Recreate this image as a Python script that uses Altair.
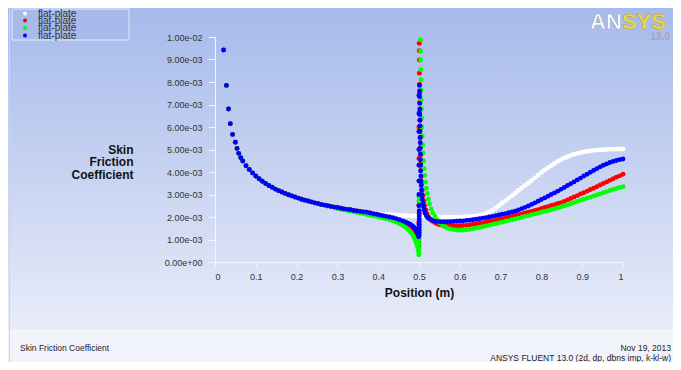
import altair as alt
import pandas as pd

# ---------------- data (y in units of 1e-3) ----------------
LEGEND_LABELS = ["flat-plate", "flat-plate", "flat-plate", "flat-plate"]
SERIES_COLORS = ["#ffffff", "#ff0000", "#00ff00", "#0000ff"]

X_TICKS = [0, 0.1, 0.2, 0.3, 0.4, 0.5, 0.6, 0.7, 0.8, 0.9, 1.0]
X_TICK_LABELS = ["0", "0.1", "0.2", "0.3", "0.4", "0.5", "0.6", "0.7", "0.8", "0.9", "1"]
Y_TICKS = [0, 1, 2, 3, 4, 5, 6, 7, 8, 9, 10]
Y_TICK_LABELS = ["0.00e+00", "1.00e-03", "2.00e-03", "3.00e-03", "4.00e-03", "5.00e-03",
                 "6.00e-03", "7.00e-03", "8.00e-03", "9.00e-03", "1.00e-02"]

# first plate, shared by every case
TRUNK_X = [0.021, 0.028, 0.033, 0.0375, 0.043, 0.050, 0.054, 0.058, 0.063,
           0.068, 0.076, 0.084, 0.092, 0.100, 0.108, 0.116, 0.124, 0.132, 0.140,
           0.148, 0.156, 0.164, 0.172, 0.180, 0.188, 0.196, 0.204, 0.212, 0.220,
           0.228, 0.236, 0.244, 0.252, 0.260, 0.268, 0.276, 0.284, 0.292]
TRUNK_Y = [9.42, 7.85, 6.80, 6.15, 5.67, 5.32, 5.05, 4.83, 4.64,
           4.49, 4.28, 4.11, 3.96, 3.82, 3.70, 3.59, 3.49, 3.40, 3.32,
           3.24, 3.17, 3.11, 3.05, 2.99, 2.94, 2.89, 2.84, 2.79, 2.75,
           2.71, 2.67, 2.63, 2.60, 2.56, 2.53, 2.50, 2.47, 2.44]

# end of the first plate
TAIL1_X = [0.300, 0.308, 0.316, 0.324, 0.332, 0.340, 0.348, 0.356, 0.364, 0.372, 0.380,
           0.388, 0.396, 0.404, 0.412, 0.420, 0.428, 0.436, 0.444, 0.452, 0.460,
           0.467, 0.473, 0.478, 0.482, 0.486, 0.489, 0.492, 0.494, 0.496, 0.498, 0.4995]
BLUE_TAIL1_Y = [2.42, 2.39, 2.36, 2.34, 2.32, 2.29, 2.27, 2.25, 2.23, 2.21, 2.18,
                2.15, 2.12, 2.09, 2.06, 2.03, 2.00, 1.97, 1.93, 1.88, 1.83,
                1.78, 1.73, 1.68, 1.63, 1.57, 1.51, 1.44, 1.38, 1.31, 1.22, 1.12]
RED_TAIL1_Y = [2.42, 2.39, 2.36, 2.34, 2.32, 2.29, 2.27, 2.25, 2.23, 2.21, 2.18,
               2.14, 2.11, 2.07, 2.03, 1.99, 1.95, 1.91, 1.86, 1.80, 1.74,
               1.67, 1.60, 1.53, 1.46, 1.37, 1.28, 1.17, 1.08, 0.97, 0.84, 0.72]
GREEN_TAIL1_Y = [2.38, 2.35, 2.32, 2.29, 2.26, 2.23, 2.20, 2.17, 2.14, 2.11, 2.08,
                 2.05, 2.02, 1.99, 1.96, 1.92, 1.88, 1.83, 1.77, 1.70, 1.62,
                 1.54, 1.45, 1.36, 1.27, 1.16, 1.05, 0.92, 0.81, 0.68, 0.50, 0.32]

# single long plate case (white), middle part
WHITE_MID_X = [0.300, 0.308, 0.316, 0.324, 0.332, 0.340, 0.348, 0.356, 0.364, 0.372, 0.380,
               0.388, 0.396, 0.404, 0.412, 0.420, 0.428, 0.436, 0.444, 0.452, 0.460,
               0.468, 0.476, 0.484, 0.492, 0.500, 0.508, 0.516, 0.524, 0.532, 0.540,
               0.548, 0.556, 0.564]
WHITE_MID_Y = [2.42, 2.39, 2.36, 2.34, 2.32, 2.29, 2.27, 2.25, 2.23, 2.21, 2.19,
               2.17, 2.15, 2.14, 2.12, 2.11, 2.10, 2.09, 2.08, 2.07, 2.07,
               2.06, 2.06, 2.05, 2.05, 2.04, 2.03, 2.02, 2.02, 2.01, 2.01,
               2.00, 2.00, 1.99]

# leading-edge spike of the second plate
BLUE_SPIKE_X = [0.5005, 0.5005, 0.5005, 0.5005, 0.5005, 0.5005, 0.5005, 0.5005, 0.5005, 0.5005,
                0.4998, 0.4998, 0.4998, 0.4998, 0.4998, 0.4998, 0.4998, 0.4998,
                0.5012, 0.5015, 0.5015, 0.502, 0.502, 0.502, 0.5025, 0.5025, 0.5025,
                0.503, 0.503, 0.503, 0.5035, 0.5035, 0.504, 0.504, 0.5045, 0.505,
                0.5055, 0.506, 0.507, 0.508, 0.5095, 0.511, 0.513, 0.515, 0.518,
                0.521, 0.525, 0.530, 0.536, 0.543, 0.552, 0.560]
BLUE_SPIKE_Y = [1.20, 1.32, 1.44, 1.56, 1.68, 1.80, 1.92, 2.04, 2.16, 2.28,
                2.50, 3.00, 3.60, 4.30, 5.00, 5.80, 6.60, 7.40,
                7.85, 7.60, 7.35, 7.05, 6.80, 6.55, 6.30, 6.05, 5.80,
                5.55, 5.30, 5.05, 4.80, 4.55, 4.30, 4.05, 3.82, 3.60,
                3.40, 3.20, 3.00, 2.80, 2.60, 2.45, 2.30, 2.17, 2.06,
                1.98, 1.92, 1.87, 1.83, 1.80, 1.79, 1.79]
RED_SPIKE_X = [0.4995, 0.4995, 0.4995, 0.4995, 0.4995, 0.4995, 0.4995, 0.4995,
               0.4998, 0.4998, 0.4998,
               0.5008, 0.5008, 0.501, 0.501, 0.5012, 0.5015, 0.5015, 0.502, 0.502,
               0.5025, 0.503, 0.5035, 0.504, 0.5045, 0.505, 0.506, 0.507, 0.5085,
               0.510, 0.512, 0.514, 0.517, 0.520, 0.524, 0.528, 0.533, 0.539,
               0.545, 0.552, 0.560]
RED_SPIKE_Y = [0.75, 0.88, 1.01, 1.14, 1.27, 1.40, 1.55, 1.73,
               2.53, 4.60, 6.00,
               9.72, 9.39, 8.98, 8.39, 7.90, 7.50, 7.10, 6.70, 6.30,
               5.90, 5.50, 5.10, 4.75, 4.40, 4.10, 3.80, 3.50, 3.20,
               2.95, 2.70, 2.50, 2.30, 2.14, 2.00, 1.90, 1.81, 1.74,
               1.69, 1.65, 1.62]
GREEN_SPIKE_X = [0.4998, 0.4998, 0.4998, 0.4998, 0.4998, 0.4998,
                 0.5037, 0.5037, 0.504, 0.5045, 0.505, 0.505, 0.5055, 0.506, 0.5065,
                 0.507, 0.508, 0.509, 0.510, 0.511, 0.5125, 0.514, 0.516, 0.518,
                 0.520, 0.523, 0.526, 0.530, 0.534, 0.539, 0.545, 0.551, 0.557, 0.564]
GREEN_SPIKE_Y = [0.45, 0.60, 0.80, 1.00, 2.70, 2.90,
                 9.87, 9.38, 8.98, 8.55, 8.10, 7.65, 7.20, 6.80, 6.40,
                 6.00, 5.60, 5.20, 4.85, 4.50, 4.15, 3.85, 3.55, 3.28,
                 3.05, 2.80, 2.58, 2.36, 2.18, 2.02, 1.87, 1.75, 1.65, 1.57]

# second plate
G2_X = [0.568, 0.576, 0.584, 0.592, 0.600, 0.608, 0.616, 0.624, 0.632, 0.640,
        0.648, 0.656, 0.664, 0.672, 0.680, 0.688, 0.696, 0.704, 0.712, 0.720,
        0.728, 0.736, 0.744, 0.752, 0.760, 0.768, 0.776, 0.784, 0.792, 0.800,
        0.808, 0.816, 0.824, 0.832, 0.840, 0.848, 0.856, 0.864, 0.872, 0.880,
        0.888, 0.896, 0.904, 0.912, 0.920, 0.928, 0.936, 0.944, 0.952, 0.960,
        0.968, 0.976, 0.984, 0.992, 1.000]
WHITE_G2_Y = [1.99, 1.99, 1.99, 1.99, 2.00, 2.00, 2.01, 2.02, 2.03, 2.04,
              2.06, 2.10, 2.15, 2.22, 2.30, 2.40, 2.51, 2.62, 2.73, 2.84,
              2.95, 3.06, 3.18, 3.29, 3.40, 3.51, 3.62, 3.74, 3.86, 3.98,
              4.09, 4.19, 4.29, 4.38, 4.47, 4.55, 4.62, 4.68, 4.74, 4.79,
              4.83, 4.86, 4.89, 4.92, 4.94, 4.96, 4.97, 4.98, 4.99, 5.00,
              5.01, 5.01, 5.02, 5.02, 5.02]
RED_G2_Y = [1.60, 1.60, 1.60, 1.60, 1.61, 1.62, 1.63, 1.65, 1.67, 1.69,
            1.72, 1.74, 1.77, 1.80, 1.83, 1.86, 1.89, 1.93, 1.96, 2.00,
            2.03, 2.07, 2.10, 2.14, 2.18, 2.21, 2.25, 2.29, 2.33, 2.38,
            2.42, 2.46, 2.51, 2.55, 2.60, 2.64, 2.69, 2.76, 2.82, 2.89,
            2.95, 3.02, 3.08, 3.15, 3.22, 3.28, 3.35, 3.42, 3.49, 3.56,
            3.63, 3.70, 3.77, 3.83, 3.90]
GREEN_G2_Y = [1.52, 1.47, 1.44, 1.42, 1.41, 1.42, 1.43, 1.45, 1.48, 1.51,
              1.54, 1.57, 1.60, 1.63, 1.67, 1.70, 1.74, 1.77, 1.81, 1.84,
              1.88, 1.91, 1.95, 1.99, 2.03, 2.06, 2.10, 2.14, 2.17, 2.21,
              2.25, 2.28, 2.32, 2.36, 2.40, 2.45, 2.50, 2.54, 2.59, 2.64,
              2.69, 2.74, 2.79, 2.84, 2.88, 2.93, 2.98, 3.03, 3.08, 3.13,
              3.18, 3.23, 3.27, 3.31, 3.35]
BLUE_G2_Y = [1.79, 1.79, 1.80, 1.81, 1.82, 1.83, 1.85, 1.86, 1.88, 1.90,
             1.92, 1.95, 1.97, 2.00, 2.03, 2.06, 2.09, 2.12, 2.15, 2.19,
             2.22, 2.26, 2.31, 2.37, 2.43, 2.49, 2.56, 2.63, 2.70, 2.78,
             2.85, 2.92, 3.00, 3.07, 3.15, 3.23, 3.31, 3.40, 3.48, 3.56,
             3.65, 3.73, 3.82, 3.90, 3.99, 4.07, 4.15, 4.23, 4.30, 4.36,
             4.42, 4.47, 4.51, 4.55, 4.58]

# ---------------- table ----------------
rows = []


def add(k, xs, ys):
    for a, b in zip(xs, ys):
        rows.append({"x": a, "y": b, "k": k})


add(0, TRUNK_X, TRUNK_Y); add(0, WHITE_MID_X, WHITE_MID_Y); add(0, G2_X, WHITE_G2_Y)
add(1, TRUNK_X, TRUNK_Y); add(1, TAIL1_X, RED_TAIL1_Y); add(1, RED_SPIKE_X, RED_SPIKE_Y); add(1, G2_X, RED_G2_Y)
add(2, TRUNK_X, TRUNK_Y); add(2, TAIL1_X, GREEN_TAIL1_Y); add(2, GREEN_SPIKE_X, GREEN_SPIKE_Y); add(2, G2_X, GREEN_G2_Y)
add(3, TRUNK_X, TRUNK_Y); add(3, TAIL1_X, BLUE_TAIL1_Y); add(3, BLUE_SPIKE_X, BLUE_SPIKE_Y); add(3, G2_X, BLUE_G2_Y)
df = pd.DataFrame(rows)
df["i"] = range(len(df))

# ---------------- layout ----------------
W, H = 408, 225
PAD_L, PAD_T = 207, 29
TOTAL_W, TOTAL_H = 665, 354
OX, OY = PAD_L + 8, PAD_T + 8  # page position of plot origin
FONT = "Liberation Sans"
ONE = pd.DataFrame({"a": [0]})


def px(v):
    return alt.value(v - OX)


def py(v):
    return alt.value(v - OY)


bg = alt.Chart(ONE).mark_rect(
    fill=alt.Gradient(gradient="linear",
                      stops=[alt.GradientStop(color="#a6baeb", offset=0),
                             alt.GradientStop(color="#c6d2f1", offset=0.5),
                             alt.GradientStop(color="#e8ecf9", offset=1)],
                      x1=0, x2=0, y1=0, y2=1)
).encode(x=px(8), x2=px(8 + TOTAL_W), y=py(8), y2=py(328))

footer = alt.Chart(ONE).mark_rect(fill="#f1f3fb").encode(
    x=px(8), x2=px(8 + TOTAL_W), y=py(328), y2=py(8 + TOTAL_H))
footer_line = alt.Chart(ONE).mark_rule(color="#dfe4f2", strokeWidth=1).encode(
    x=px(8), x2=px(8 + TOTAL_W), y=py(328))
left_line = alt.Chart(ONE).mark_rule(color="#cfd4e2", strokeWidth=1).encode(
    x=px(9.5), y=py(8), y2=py(8 + TOTAL_H))

x_axis = alt.Axis(
    values=X_TICKS,
    labelExpr="[" + ",".join("'%s'" % s for s in X_TICK_LABELS) + "][round(datum.value*10)]",
    title="Position (m)", titleFont=FONT, titleFontSize=12, titleFontWeight="bold",
    titleColor="#111111", titleY=34, titleBaseline="alphabetic",
    labelFont=FONT, labelFontSize=9, labelColor="#333333", labelPadding=6,
    tickSize=4, tickColor="#f4f6fc", domainColor="#f4f6fc", grid=False, zindex=1,
)
y_axis = alt.Axis(
    values=Y_TICKS,
    labelExpr="[" + ",".join("'%s'" % s for s in Y_TICK_LABELS) + "][round(datum.value)]",
    title=["Skin", "Friction", "Coefficient"], titleAngle=0, titleAlign="right",
    titleBaseline="alphabetic", titleX=133 - OX, titleY=153 - OY, titleLineHeight=12.5,
    titleFont=FONT, titleFontSize=12, titleFontWeight="bold", titleColor="#111111",
    labelFont=FONT, labelFontSize=9, labelColor="#333333", labelPadding=6,
    tickSize=7, tickColor="#f4f6fc", domainColor="#f4f6fc", grid=False, zindex=1,
)

points = alt.Chart(df).mark_circle(size=24, opacity=1, strokeWidth=0).encode(
    x=alt.X("x:Q", scale=alt.Scale(domain=[0, 1], nice=False, zero=False), axis=x_axis),
    y=alt.Y("y:Q", scale=alt.Scale(domain=[0, 10], nice=False, zero=False), axis=y_axis),
    color=alt.Color("k:N", scale=alt.Scale(domain=[0, 1, 2, 3], range=SERIES_COLORS), legend=None),
    order=alt.Order("i:Q"),
)

# legend box (kept just inside the drawing's top edge)
layers = [bg, footer, footer_line, left_line]
layers.append(alt.Chart(ONE).mark_rect(fill="#a7baec", stroke="#e4e9f7", strokeWidth=1).encode(
    x=px(12), x2=px(129), y=py(9), y2=py(40)))
LEG_Y = [13.5, 20.5, 28.0, 35.5]
for lab, col, yy in zip(LEGEND_LABELS, SERIES_COLORS, LEG_Y):
    layers.append(alt.Chart(ONE).mark_circle(size=16, opacity=1, color=col).encode(x=px(25), y=py(yy)))
    layers.append(alt.Chart(ONE).mark_text(text=lab, font=FONT, fontSize=10, color="#333333",
                                           align="left", baseline="middle").encode(x=px(38), y=py(yy)))


def txt(s, x, y, **kw):
    return alt.Chart(ONE).mark_text(text=s, font=FONT, baseline="alphabetic", **kw).encode(x=px(x), y=py(y))


layers.append(points)
layers.append(txt("AN", 590, 29, fontSize=22, fontWeight="bold", color="#ffffff", align="left",
                  stroke="#9aa3b8", strokeWidth=0.6))
layers.append(txt("SYS", 622, 29, fontSize=22, fontWeight="bold", color="#ecd84e", align="left",
                  stroke="#a89a40", strokeWidth=0.4))
layers.append(txt("13.0", 670, 40, fontSize=10, fontWeight="bold", color="#a3a8b3", align="right"))
layers.append(txt("Skin Friction Coefficient", 20, 351, fontSize=8.5, color="#222222", align="left"))
layers.append(txt("Nov 19, 2013", 671, 351, fontSize=8.5, color="#222222", align="right"))
layers.append(txt("ANSYS FLUENT 13.0 (2d, dp, dbns imp, k-kl-w)", 671, 361, fontSize=8.5,
                  color="#222222", align="right"))

chart = alt.layer(*layers).properties(
    width=W, height=H,
    padding={"left": PAD_L, "top": PAD_T, "right": TOTAL_W - PAD_L - W, "bottom": TOTAL_H - PAD_T - H},
    autosize=alt.AutoSizeParams(type="none"),
).configure_view(stroke=None)

chart.save("out.html", embed_options={"renderer": "svg", "actions": False})
